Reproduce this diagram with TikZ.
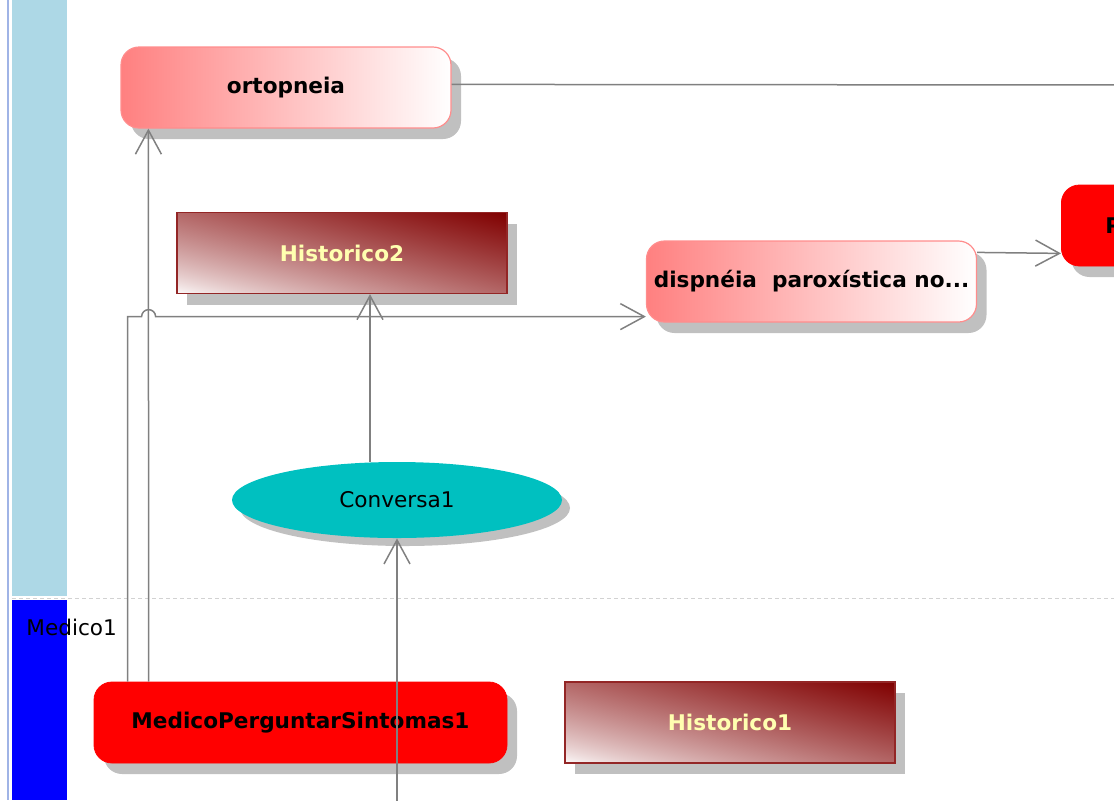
\documentclass[tikz,border=0pt]{standalone}
\usepackage{fontspec}
\setmainfont{DejaVu Sans}
\usetikzlibrary{
    positioning,        % right=of
    arrows.meta,        % Straight Barb
    shapes.geometric,   % ellipse
    shadows,            % drop shadow
    calc                % ($(a)+(x,y)$)
}
\definecolor{lane_light}{RGB}{173,216,230}
\definecolor{lane_dark}{RGB}{0,0,255}
\definecolor{lane_edge}{RGB}{160,180,230}
\definecolor{soft_red}{RGB}{255,128,128}
\definecolor{hist_dark}{RGB}{128,0,0}
\definecolor{hist_text}{RGB}{255,255,176}
\definecolor{talk_fill}{RGB}{0,192,192}
\definecolor{shadow_gray}{RGB}{192,192,192}
\definecolor{wire_gray}{RGB}{128,128,128}
% diagonal: branco em baixo-esquerda, vermelho escuro em cima-direita
\pgfdeclarefunctionalshading{histshade}{\pgfpoint{0bp}{0bp}}{\pgfpoint{100bp}{100bp}}{}{
    add 50 sub 100 div
    dup 0 lt {pop 0} if
    dup 1 gt {pop 1} if
    0.75 exp
    dup 0.498 mul 1 exch sub exch
    1 exch sub dup
}
\tikzset{
    box/.style={
        rectangle, minimum width=165pt, minimum height=40.5pt,
        align=center, inner sep=2pt,
        font=\fontsize{10.8}{13}\selectfont\bfseries,
        drop shadow={shadow xshift=5pt, shadow yshift=-5.5pt,
                     fill=shadow_gray, opacity=1}
    },
    softbox/.style={
        box, rounded corners=9pt, draw=soft_red!90, line width=0.6pt,
        left color=soft_red, right color=white
    },
    redbox/.style={
        box, rounded corners=9pt, draw=red, fill=red
    },
    histbox/.style={
        box, draw=hist_dark!85, line width=0.6pt,
        shading=histshade, shade, text=hist_text
    },
    talk/.style={
        ellipse, minimum width=165pt, minimum height=38pt,
        fill=talk_fill, font=\fontsize{10.8}{13}\selectfont,
        drop shadow={shadow xshift=4pt, shadow yshift=-4pt,
                     fill=shadow_gray, opacity=1}
    },
    arrow/.style={
        -{Straight Barb[length=12pt, width=13pt, line width=0.75pt]},
        draw=wire_gray, line width=0.75pt
    },
    wire/.style={
        draw=wire_gray, line width=0.75pt
    }
}

\begin{document}
\begin{tikzpicture}[x=0.5pt, y=-0.5pt]

    \useasboundingbox (0,0) rectangle (1114,800);
    \clip (0,0) rectangle (1114,800);

    % Raia
    \fill[lane_light] (12,0) rectangle (67,596);
    \fill[lane_dark] (12,600) rectangle (67,800);
    \draw[lane_edge, line width=1pt] (8,0) -- (8,800);
    \draw[gray!35, dash pattern=on 2pt off 1.5pt] (12,598) -- (1114,598);
    \node[anchor=west, inner sep=0pt, font=\fontsize{10.8}{13}\selectfont]
        (lanename) at (26,627) {Medico1};

    % Estados
    \node[softbox] (ortop) at (286,87.5) {ortopneia};
    \node[histbox] (hist2) at (342,253) {Historico2};
    \node[softbox] (disp) at (811.5,281.5) {dispnéia\ \ paroxística no...};
    \node[redbox, anchor=west, text width=121pt, inner xsep=22pt, align=left]
        (pnode) at (1061,225.5) {P};
    \node[talk] (conv) at (397,500) {Conversa1};
    \node[redbox, minimum width=206.5pt] (mps) at (300.5,722.5) {MedicoPerguntarSintomas1};
    \node[histbox, right=28.5pt of mps] (hist1) {Historico1};

    % Ligacoes
    \coordinate (farR) at (1130,85);
    \coordinate (feed) at (397,815);
    \coordinate (dl) at ($(disp.south west)+(0,-6)$);

    \draw[wire] ($(ortop.north east)+(0,38)$) -- (farR);
    \draw[arrow] ($(mps.north west)+(55,0)$) -- ($(ortop.south west)+(28,0)$);
    \draw[arrow] ($(mps.north west)+(34,0)$) coordinate (s) -- (s |- dl)
        -- ++(14,0) arc[start angle=180, end angle=360, radius=7] -- (dl);
    \draw[arrow] ($(conv.north)+(-27,0)$) -- ($(hist2.south)+(28,0)$);
    \draw[arrow] (feed) -- (conv.south);
    \draw[arrow] ($(disp.north east)+(0,12)$) -- ($(pnode.south west)+(0,-13)$);

\end{tikzpicture}
\end{document}
